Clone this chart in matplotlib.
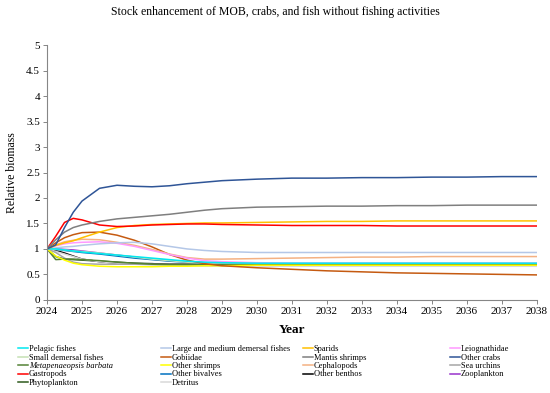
import matplotlib.pyplot as plt

plt.rcParams['font.family'] = ['Liberation Serif', 'DejaVu Serif']

# time points (years)
t = [2024, 2024.25, 2024.5, 2024.75, 2025, 2025.5, 2026, 2026.5, 2027, 2027.5, 2028,
     2028.5, 2029, 2030, 2031, 2032, 2033, 2034, 2035, 2036, 2037, 2038]

# relative biomass per group
pelagic = [1.0, 1.0, 0.98, 0.96, 0.94, 0.91, 0.88, 0.85, 0.82, 0.79, 0.76,
           0.74, 0.73, 0.72, 0.72, 0.72, 0.72, 0.72, 0.72, 0.72, 0.72, 0.72]
large_med = [1.0, 1.02, 1.04, 1.05, 1.07, 1.1, 1.12, 1.13, 1.1, 1.05, 1.0,
             0.97, 0.95, 0.93, 0.93, 0.93, 0.93, 0.93, 0.93, 0.93, 0.93, 0.93]
sparids = [1.0, 1.07, 1.12, 1.16, 1.22, 1.33, 1.42, 1.46, 1.48, 1.49, 1.5,
           1.51, 1.51, 1.52, 1.53, 1.54, 1.54, 1.55, 1.55, 1.55, 1.55, 1.55]
leiog = [1.0, 1.06, 1.1, 1.12, 1.13, 1.14, 1.11, 1.05, 0.97, 0.89, 0.82,
         0.77, 0.75, 0.73, 0.72, 0.72, 0.72, 0.72, 0.72, 0.72, 0.72, 0.72]
small_dem = [1.0, 0.99, 0.98, 0.96, 0.95, 0.92, 0.88, 0.84, 0.8, 0.77, 0.74,
             0.72, 0.71, 0.7, 0.7, 0.7, 0.7, 0.7, 0.7, 0.7, 0.7, 0.7]
gobiidae = [1.0, 1.12, 1.22, 1.28, 1.32, 1.33, 1.27, 1.17, 1.04, 0.89, 0.78,
            0.71, 0.67, 0.63, 0.6, 0.57, 0.55, 0.53, 0.52, 0.51, 0.5, 0.49]
mantis = [1.0, 1.18, 1.33, 1.42, 1.47, 1.54, 1.59, 1.62, 1.65, 1.68, 1.72,
          1.76, 1.79, 1.82, 1.83, 1.84, 1.84, 1.85, 1.85, 1.86, 1.86, 1.86]
crabs = [1.0, 1.08, 1.42, 1.72, 1.94, 2.19, 2.25, 2.23, 2.22, 2.24, 2.28,
         2.31, 2.34, 2.37, 2.39, 2.39, 2.4, 2.4, 2.41, 2.41, 2.42, 2.42]
metap = [1.0, 0.79, 0.8, 0.8, 0.79, 0.77, 0.74, 0.72, 0.7, 0.69, 0.69,
         0.69, 0.69, 0.69, 0.69, 0.69, 0.69, 0.69, 0.69, 0.69, 0.69, 0.69]
shrimps = [1.0, 0.86, 0.78, 0.72, 0.69, 0.66, 0.65, 0.65, 0.65, 0.66, 0.66,
           0.67, 0.67, 0.68, 0.68, 0.68, 0.68, 0.68, 0.68, 0.68, 0.68, 0.68]
cephal = [1.0, 1.08, 1.14, 1.17, 1.19, 1.18, 1.13, 1.07, 0.99, 0.9, 0.83,
          0.8, 0.8, 0.81, 0.82, 0.83, 0.84, 0.84, 0.85, 0.85, 0.85, 0.85]
urchins = [1.0, 0.93, 0.82, 0.74, 0.71, 0.7, 0.7, 0.7, 0.7, 0.7, 0.7,
           0.7, 0.7, 0.7, 0.7, 0.7, 0.7, 0.7, 0.7, 0.7, 0.7, 0.7]
gastro = [1.0, 1.25, 1.52, 1.6, 1.57, 1.47, 1.44, 1.45, 1.47, 1.48, 1.49,
          1.49, 1.48, 1.47, 1.46, 1.46, 1.46, 1.45, 1.45, 1.45, 1.45, 1.45]
bivalves = [1.0, 0.99, 0.97, 0.95, 0.93, 0.9, 0.86, 0.82, 0.79, 0.76, 0.74,
            0.73, 0.72, 0.71, 0.71, 0.71, 0.71, 0.71, 0.71, 0.71, 0.71, 0.71]
benthos = [1.0, 0.97, 0.92, 0.86, 0.8, 0.75, 0.72, 0.71, 0.71, 0.7, 0.7,
           0.7, 0.7, 0.7, 0.7, 0.7, 0.7, 0.7, 0.7, 0.7, 0.7, 0.7]
zoo = [1.0, 1.0, 0.99, 0.98, 0.96, 0.92, 0.88, 0.84, 0.8, 0.77, 0.75,
       0.73, 0.72, 0.71, 0.71, 0.71, 0.71, 0.71, 0.71, 0.71, 0.71, 0.71]
phyto = [1.0, 0.85, 0.8, 0.79, 0.78, 0.76, 0.74, 0.72, 0.71, 0.7, 0.7,
         0.7, 0.7, 0.7, 0.7, 0.7, 0.7, 0.7, 0.7, 0.7, 0.7, 0.7]
detritus = [1.0, 0.95, 0.9, 0.85, 0.8, 0.75, 0.72, 0.7, 0.68, 0.67, 0.67,
            0.66, 0.66, 0.66, 0.66, 0.66, 0.66, 0.66, 0.66, 0.66, 0.66, 0.66]

# legend columns (Excel style, filled row by row)
col1 = [('Pelagic fishes', pelagic, '#00e8f0'),
        ('Small demersal fishes', small_dem, '#c5e0b4'),
        ('Metapenaeopsis barbata', metap, '#548235'),
        ('Gastropods', gastro, '#ff0000'),
        ('Phytoplankton', phyto, '#2e5a1c')]
col2 = [('Large and medium demersal fishes', large_med, '#b4c7e7'),
        ('Gobiidae', gobiidae, '#c55a11'),
        ('Other shrimps', shrimps, '#ffff00'),
        ('Other bivalves', bivalves, '#0070c0'),
        ('Detritus', detritus, '#d9d9d9')]
col3 = [('Sparids', sparids, '#ffc000'),
        ('Mantis shrimps', mantis, '#7f7f7f'),
        ('Cephalopods', cephal, '#f4b183'),
        ('Other benthos', benthos, '#000000')]
col4 = [('Leiognathidae', leiog, '#ff99ff'),
        ('Other crabs', crabs, '#2f5597'),
        ('Sea urchins', urchins, '#a5a5a5'),
        ('Zooplankton', zoo, '#9933cc')]

fig = plt.figure(figsize=(5.5, 3.93), dpi=100)
ax = fig.add_axes([0.0855, 0.237, 0.8905, 0.648])

draw_order = [col4[3], col1[4], col3[3], col2[3], col2[4], col1[1], col4[2], col1[2],
              col2[2], col2[1], col3[2], col4[0], col2[0], col1[0], col3[0], col1[3],
              col3[1], col4[1]]
handles = {}
for name, vals, color in draw_order:
    line, = ax.plot(t, vals, color=color, lw=1.1, label=name)
    handles[name] = line

ax.set_xlim(2024, 2038)
ax.set_ylim(0, 5)
ax.set_xticks(range(2024, 2039))
ax.set_yticks([0, 0.5, 1, 1.5, 2, 2.5, 3, 3.5, 4, 4.5, 5])
ax.set_yticklabels(['0', '0.5', '1', '1.5', '2', '2.5', '3', '3.5', '4', '4.5', '5'])
ax.tick_params(labelsize=8, length=3, width=0.7, color='#868686', pad=2)
for s in ['top', 'right']:
    ax.spines[s].set_visible(False)
for s in ['left', 'bottom']:
    ax.spines[s].set_color('#868686')
    ax.spines[s].set_linewidth(0.8)

ax.set_xlabel('Year', fontsize=9.5, fontweight='bold', labelpad=6)
ax.set_ylabel('Relative biomass', fontsize=8.5, labelpad=6)
fig.text(0.5, 0.969, 'Stock enhancement of MOB, crabs, and fish without fishing activities',
         ha='center', va='center', fontsize=8.5)

# one legend per column at fixed x positions
xs = [18, 161, 303, 450]
for x0, col in zip(xs, [col1, col2, col3, col4]):
    leg = fig.legend([handles[c[0]] for c in col], [c[0] for c in col],
                     loc='upper left', bbox_to_anchor=(x0 / 550, 1 - 345 / 393),
                     frameon=False, fontsize=6, handlelength=1.2, handletextpad=0.1,
                     labelspacing=0.06, borderpad=0, borderaxespad=0)
    for txt in leg.get_texts():
        if txt.get_text() == 'Metapenaeopsis barbata':
            txt.set_fontstyle('italic')

fig.savefig('out.png', dpi=100)
